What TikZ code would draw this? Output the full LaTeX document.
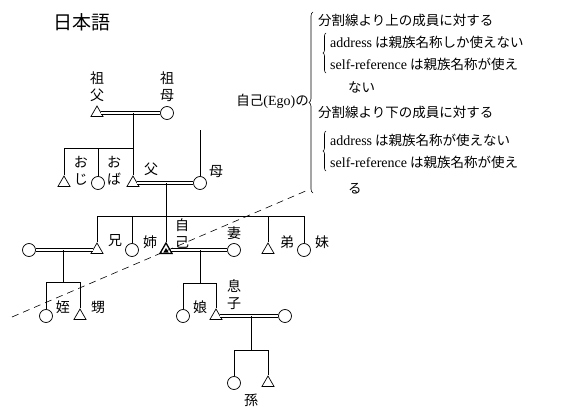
\documentclass[tikz,border=0pt]{standalone}
\usepackage{fontspec}
\setmainfont{Liberation Serif}
\newfontfamily\jp{Noto Sans CJK JP}
\usetikzlibrary{shapes.geometric,decorations.pathreplacing}
\newcommand\lt[1]{{\rmfamily\fontsize{14}{16}\selectfont #1}}
\begin{document}
\begin{tikzpicture}[x=1pt,y=-1pt,
 tri/.style={regular polygon, regular polygon sides=3, minimum size=14pt, inner sep=0pt, draw, line width=0.7pt},
 circ/.style={circle, minimum size=13pt, inner sep=0pt, draw, line width=0.7pt},
 lbl/.style={font=\jp\fontsize{14}{17}\selectfont, inner sep=0pt, align=center},
 txt/.style={font=\jp\fontsize{13.5}{16}\selectfont, inner sep=0pt, anchor=west},
 dbl/.style={double, double distance=2pt, line width=0.7pt},
 ln/.style={line width=0.7pt},
 brc/.style={line width=0.6pt, decorate, decoration={brace, amplitude=#1}}]
\useasboundingbox (0,0) rectangle (566,407);
\node[font=\jp\fontsize{19}{22}\selectfont, inner sep=0pt] (title) at (82,22) {日本語};
% generation 1
\node[tri] (gf) at (97,113) {};
\node[circ] (gm) at (167,113) {};
\node[lbl] (gfl) at (97,87) {祖\\父};
\node[lbl] (gml) at (167,87) {祖\\母};
\coordinate (j1) at (133,113);
\coordinate (b2) at (133,148);
% generation 2
\node[tri] (oji) at (64,183) {};
\node[circ] (oba) at (98,183) {};
\node[tri] (fa) at (133,183) {};
\node[circ] (mo) at (200,183) {};
\coordinate (mtop) at (200,130);
\node[lbl] (ojil) at (81,171) {お\\じ};
\node[lbl] (obal) at (114,171) {お\\ば};
\node[lbl] (fal) at (151,169) {父};
\node[lbl] (mol) at (216,172) {母};
\coordinate (j2) at (166,183);
\coordinate (b3r) at (304,216);
% generation 3
\node[tri] (ani) at (97,250) {};
\node[circ] (ane) at (132,250) {};
\node[tri, line width=1.3pt] (ego) at (166,250) {};
\node[regular polygon, regular polygon sides=3, minimum size=6pt, inner sep=0pt, fill=black] (egoin) at (166,251) {};
\node[circ] (tsuma) at (234,250) {};
\node[tri] (ototo) at (268,250) {};
\node[circ] (imo) at (304,250) {};
\node[circ] (ania) at (29,250) {};
\node[lbl] (anil) at (115,241) {兄};
\node[lbl] (anel) at (150,242) {姉};
\node[lbl] (egol) at (182,234) {自\\己};
\node[lbl] (tsumal) at (234,233) {妻};
\node[lbl] (ototol) at (287,242) {弟};
\node[lbl] (imol) at (322,242) {妹};
\coordinate (j3) at (63,250);
\coordinate (j3b) at (63,282);
\coordinate (b4a) at (80,282);
\coordinate (j4) at (200,250);
\coordinate (j4b) at (200,283);
\coordinate (b4b) at (216,283);
% generation 4
\node[circ] (mei) at (46,316) {};
\node[tri] (oi) at (80,316) {};
\node[circ] (musume) at (183,316) {};
\node[tri] (musuko) at (216,316) {};
\node[circ] (yome) at (285,316) {};
\node[lbl] (meil) at (63,307) {姪};
\node[lbl] (oil) at (98,307) {甥};
\node[lbl] (musumel) at (200,307) {娘};
\node[lbl] (musukol) at (234,295) {息\\子};
\coordinate (j5) at (251,316);
\coordinate (j5b) at (251,350);
\coordinate (b5) at (268,350);
% generation 5
\node[circ] (mago1) at (234,383) {};
\node[tri] (mago2) at (268,383) {};
\node[lbl] (magol) at (251,400) {孫};
% connectors
\draw[dbl] (gf) -- (gm);
\draw[ln] (j1) -- (fa.north);
\draw[ln] (oji.north) |- (b2);
\draw[ln] (oba.north) -- (oba.north |- b2);
\draw[dbl] (fa) -- (mo);
\draw[ln] (mo.north) -- (mtop);
\draw[ln] (j2) -- (ego.north);
\draw[ln] (ani.north) |- (b3r) -- (imo.north);
\draw[ln] (ane.north) -- (ane.north |- b3r);
\draw[ln] (ototo.north) -- (ototo.north |- b3r);
\draw[dbl] (ania) -- (ani);
\draw[ln] (j3) -- (j3b);
\draw[ln] (mei.north) |- (b4a) -- (oi.north);
\draw[dbl] (ego) -- (tsuma);
\draw[ln] (j4) -- (j4b);
\draw[ln] (musume.north) |- (b4b) -- (musuko.north);
\draw[dbl] (musuko) -- (yome);
\draw[ln] (j5) -- (j5b);
\draw[ln] (mago1.north) |- (b5) -- (mago2.north);
% dividing line
\draw[line width=0.6pt, dash pattern=on 7pt off 5pt] (12,317) -- (308,190);
% right text
\node[txt, anchor=east] (egot) at (309,101) {自己\lt{(Ego)}の};
\node[txt] (l1) at (318,20) {分割線より上の成員に対する};
\node[txt] (l2) at (330,42) {\lt{address} は親族名称しか使えない};
\node[txt] (l3) at (330,64) {\lt{self-reference} は親族名称が使え};
\node[txt] (l4) at (348,87) {ない};
\node[txt] (l5) at (318,112) {分割線より下の成員に対する};
\node[txt] (l6) at (330,140) {\lt{address} は親族名称が使えない};
\node[txt] (l7) at (330,162) {\lt{self-reference} は親族名称が使え};
\node[txt] (l8) at (348,189) {る};
\draw[brc=4pt] (313,193) -- (313,12);
\draw[brc=3pt] (326,73) -- (326,33);
\draw[brc=3pt] (326,171) -- (326,131);
\end{tikzpicture}
\end{document}
